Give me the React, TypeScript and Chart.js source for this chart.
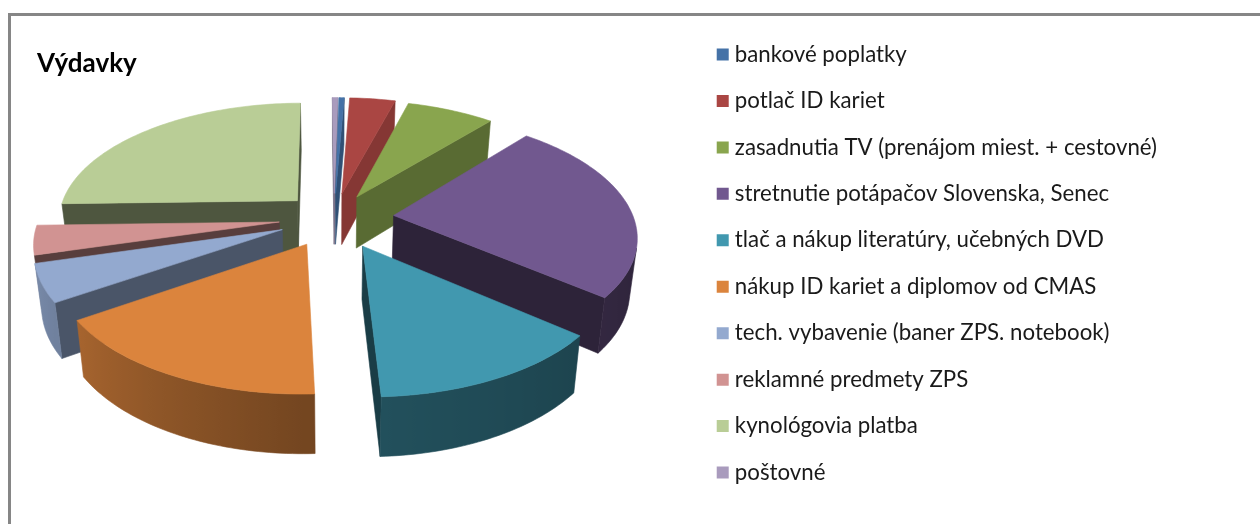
import React, { useEffect, useRef } from "react";
import { Chart, registerables } from "chart.js";

Chart.register(...registerables);

const categories = [
  "bankové poplatky",
  "potlač ID kariet",
  "zasadnutia TV (prenájom miest. + cestovné)",
  "stretnutie potápačov Slovenska, Senec",
  "tlač a nákup literatúry, učebných DVD",
  "nákup ID kariet a diplomov od CMAS",
  "tech. vybavenie (baner ZPS. notebook)",
  "reklamné predmety ZPS",
  "kynológovia platba",
  "poštovné",
];
const values = [0.42, 3.61, 6.94, 24.72, 13.33, 16.39, 5.0, 3.89, 25.28, 0.42];
const explode = [52, 52, 50, 60, 62, 58, 56, 55, 52, 52];
const colors = ["#4572A7", "#AA4643", "#89A54E", "#71588F", "#4198AF", "#DB843D", "#93A9CF", "#D19392", "#B9CD96", "#A99BBD"];
const wallShades = [0.7, 0.78, 0.65, 0.4, 0.4, 0.5, 0.5, 0.42, 0.42, 0.7];

const CX = 334;
const CY = 218;
const RADIUS = 240;
const DIST = 1550;
const TILT = 0.49;
const DEPTH = 52;
const FAR = 0.975;

type Pt = [number, number];

function project(u: number, v: number, bottom: boolean): Pt {
  const s = DIST / (DIST - v);
  const f = bottom ? FAR : 1;
  return [CX + u * s * f, CY + TILT * v * s * f + (bottom ? DEPTH * s : 0)];
}

function shade(hex: string, k: number) {
  const n = parseInt(hex.slice(1), 16);
  const c = (x: number) => Math.round(x * k);
  return `rgb(${c((n >> 16) & 255)},${c((n >> 8) & 255)},${c(n & 255)})`;
}

function rimShade(a: number) {
  let t = ((a * 180) / Math.PI + 90) % 360;
  if (t < 0) t += 360;
  if (t <= 100) return 0.4;
  if (t <= 180) return 0.4 + (0.13 * (t - 100)) / 80;
  return Math.min(0.9, 0.53 + (0.37 * (t - 180)) / 90);
}

function fillPoly(ctx: CanvasRenderingContext2D, pts: Pt[], color: any) {
  ctx.beginPath();
  pts.forEach((p, i) => (i ? ctx.lineTo(p[0], p[1]) : ctx.moveTo(p[0], p[1])));
  ctx.closePath();
  ctx.fillStyle = color;
  ctx.strokeStyle = color;
  ctx.lineWidth = 0.6;
  ctx.fill();
  ctx.stroke();
}

function facing(pts: Pt[]) {
  let area = 0;
  pts.forEach((p, i) => {
    const q = pts[(i + 1) % pts.length];
    area += p[0] * q[1] - q[0] * p[1];
  });
  return area < 0;
}

const pie3d = {
  id: "pie3d",
  beforeDraw(chart: any) {
    const { ctx, width, height } = chart;
    ctx.save();
    ctx.fillStyle = "#fff";
    ctx.fillRect(0, 0, width, height);
    ctx.fillStyle = "#868686";
    ctx.fillRect(8, 13, width - 8, 3);
    ctx.fillRect(8, 13, 3, height - 13);
    ctx.restore();
  },
  beforeDatasetsDraw(chart: any) {
    const ctx: CanvasRenderingContext2D = chart.ctx;
    const arcs = chart.getDatasetMeta(0).data.map((arc: any, index: number) => {
      const mid = (arc.startAngle + arc.endAngle) / 2;
      const d = arc.options.offset;
      return { arc, index, ou: d * Math.cos(mid), ov: d * Math.sin(mid) };
    });
    arcs.sort((a: any, b: any) => a.ov - b.ov);
    ctx.save();
    for (const { arc, index, ou, ov } of arcs) {
      const color: string = colors[index];
      const rim = (a: number, bottom: boolean) =>
        project(ou + RADIUS * Math.cos(a), ov + RADIUS * Math.sin(a), bottom);
      const apexT = project(ou, ov, false);
      const apexB = project(ou, ov, true);
      const n = Math.max(2, Math.ceil((arc.endAngle - arc.startAngle) / 0.02));
      const angle = (i: number) => arc.startAngle + ((arc.endAngle - arc.startAngle) * i) / n;
      const wallColor = shade(color, wallShades[index]);
      const startWall: Pt[] = [apexT, rim(arc.startAngle, false), rim(arc.startAngle, true), apexB];
      const endWall: Pt[] = [rim(arc.endAngle, false), apexT, apexB, rim(arc.endAngle, true)];
      if (facing(startWall)) fillPoly(ctx, startWall, wallColor);
      if (facing(endWall)) fillPoly(ctx, endWall, wallColor);

      // outer wall: the run of rim sections that face the viewer, filled with one gradient
      const visible: number[] = [];
      for (let i = 0; i < n; i++) {
        const quad: Pt[] = [rim(angle(i), false), rim(angle(i + 1), false), rim(angle(i + 1), true), rim(angle(i), true)];
        if (facing(quad)) visible.push(i);
      }
      if (visible.length) {
        const first = visible[0];
        const last = visible[visible.length - 1] + 1;
        const upper: Pt[] = [];
        const lower: Pt[] = [];
        for (let i = first; i <= last; i++) {
          upper.push(rim(angle(i), false));
          lower.unshift(rim(angle(i), true));
        }
        const x0 = upper[0][0];
        const x1 = upper[upper.length - 1][0];
        const grad = ctx.createLinearGradient(x0, 0, x1 === x0 ? x0 + 1 : x1, 0);
        const steps = last - first;
        for (let i = 0; i <= steps; i++) {
          const a = angle(first + i);
          const pos = (upper[i][0] - x0) / (x1 - x0 || 1);
          grad.addColorStop(Math.min(1, Math.max(0, pos)), shade(color, rimShade(a)));
        }
        fillPoly(ctx, [...upper, ...lower], grad);
      }

      const top: Pt[] = [apexT];
      for (let i = 0; i <= n; i++) top.push(rim(angle(i), false));
      fillPoly(ctx, top, color);
    }
    ctx.restore();
    return false;
  },
};

export default function App() {
  const ref = useRef<HTMLCanvasElement>(null);
  useEffect(() => {
    const chart = new Chart(ref.current!, {
      type: "pie",
      data: {
        labels: categories,
        datasets: [{ data: values, backgroundColor: colors, borderWidth: 0, offset: explode }],
      },
      options: {
        responsive: false,
        animation: false,
        rotation: 1,
        layout: { padding: { left: 37, right: 93, top: 3 } },
        plugins: {
          tooltip: { enabled: false },
          title: {
            display: true,
            text: "Výdavky",
            align: "start",
            fullSize: false,
            color: "#000",
            font: { family: "Lato", size: 26, weight: "bold" },
            padding: { top: 45, bottom: 0 },
          },
          legend: {
            position: "right",
            align: "center",
            labels: {
              color: "#1a1a1a",
              font: { family: "Lato", size: 22.25 },
              padding: 24.2,
              boxWidth: 2,
              boxHeight: 2,
              generateLabels(c: any) {
                return Chart.overrides.pie.plugins.legend.labels.generateLabels(c).map((l: any, i: number) => ({
                  ...l,
                  fillStyle: colors[i],
                  strokeStyle: colors[i],
                  lineWidth: 10,
                }));
              },
            },
          },
        },
      },
      plugins: [pie3d],
    } as any);
    return () => chart.destroy();
  }, []);
  return (
    <div style={{ position: "fixed", left: 0, top: 0 }}>
      <canvas ref={ref} width={1260} height={524} style={{ display: "block" }} />
    </div>
  );
}
